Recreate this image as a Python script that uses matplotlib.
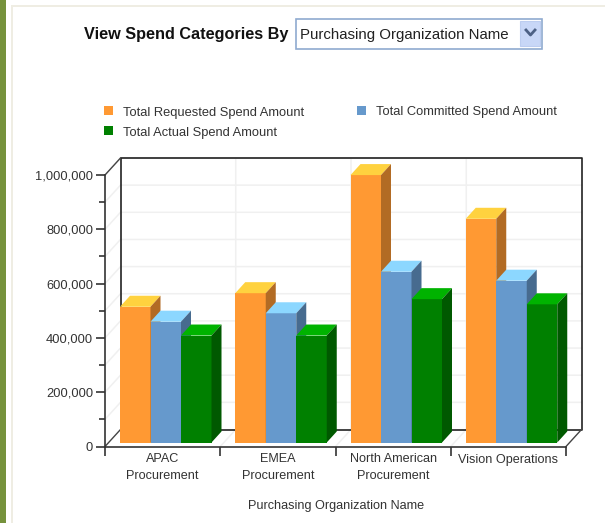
import matplotlib
matplotlib.use("Agg")
import matplotlib.pyplot as plt
from matplotlib.patches import Polygon, Rectangle
from matplotlib.ticker import FuncFormatter, MultipleLocator

plt.rcParams["font.family"] = ["Liberation Sans", "DejaVu Sans"]

W, H = 605, 523

categories = ["APAC\nProcurement", "EMEA\nProcurement", "North American\nProcurement", "Vision Operations"]
series_names = ["Total Requested Spend Amount", "Total Committed Spend Amount", "Total Actual Spend Amount"]
requested = [500000, 550000, 985000, 824000]
committed = [445000, 476000, 629000, 596000]
actual = [394000, 394000, 528000, 509000]

# front, top, side
ORANGE = ("#FF9933", "#FFD23F", "#B26B24")
BLUE = ("#6699CC", "#8CD7FF", "#476B8F")
GREEN = ("#008000", "#00B300", "#005900")

fig = plt.figure(figsize=(W / 100, H / 100), dpi=100, facecolor="white")

# 页面背景 (像素坐标)
bg = fig.add_axes([0, 0, 1, 1])
bg.set_xlim(0, W)
bg.set_ylim(H, 0)
bg.axis("off")
bg.add_patch(Rectangle((0, 0), 6, H, color="#76923C", lw=0))
bg.add_patch(Rectangle((11, 5), 2, H, color="#EFEDE3", lw=0))
bg.add_patch(Rectangle((11, 5), W, 2, color="#EFEDE3", lw=0))

# 下拉框
bg.text(288, 34.5, "View Spend Categories By", fontsize=11.7, fontweight="bold",
        ha="right", va="center", color="#111111")
bg.add_patch(Rectangle((296, 18.5), 246, 30, fc="white", ec="#8FAAD0", lw=1.2))
bg.add_patch(Rectangle((520, 20.5), 20, 25.5, fc="#C8D7F7", ec="#BCCDF0", lw=0.8))
bg.plot([526, 530.5, 535], [30, 35, 30], color="#4D6185", lw=2)
bg.text(300.5, 35, "Purchasing Organization Name", fontsize=10.85, ha="left", va="center", color="#222222")

# 图例
for (x, y), name, col in zip([(104, 106), (357, 105.5), (104, 126)], series_names, [ORANGE, BLUE, GREEN]):
    bg.add_patch(Rectangle((x, y), 9, 9, color=col[0], lw=0))
    bg.text(x + 19, y + 7, name, fontsize=9.25, ha="left", va="center", color="#333333")

# 主坐标轴
left, right, bottom, top = 105, 566, 446.5, 175
ax = fig.add_axes([left / W, 1 - bottom / H, (right - left) / W, (bottom - top) / H])
ax.patch.set_alpha(0)
ax.set_xlim(0, len(categories))
ax.set_ylim(0, 1000000)
ppx = len(categories) / (right - left)
ppy = 1000000 / (bottom - top)
wall_dx, wall_dy = 15.5 * ppx, 17 * ppy

# 后墙, 侧墙和地面的网格
for v in range(0, 1000001, 100000):
    if v > 0:
        ax.plot([0, wall_dx, len(categories) + wall_dx], [v, v + wall_dy, v + wall_dy],
                color="#F0F0F0", lw=1.1, clip_on=False, zorder=1)
for i in range(1, len(categories)):
    ax.plot([i, i + wall_dx, i + wall_dx], [0, wall_dy, 1000000 + wall_dy],
            color="#F0F0F0", lw=1.1, clip_on=False, zorder=1)

n = len(categories)
ax.plot([wall_dx, wall_dx, n + wall_dx, n + wall_dx, wall_dx],
        [wall_dy, 1000000 + wall_dy, 1000000 + wall_dy, wall_dy, wall_dy],
        color="#222222", lw=1.2, clip_on=False, zorder=2)
ax.plot([0, wall_dx], [1000000, 1000000 + wall_dy], color="#444444", lw=1, clip_on=False, zorder=2)
ax.plot([0, wall_dx], [0, wall_dy], color="#444444", lw=1, clip_on=False, zorder=2)
ax.plot([n, n + wall_dx], [0, wall_dy], color="#444444", lw=1, clip_on=False, zorder=2)

# 三维柱子
bar_w = 30.5 * ppx
base = 4 * ppy
dx, dy = 10 * ppx, 11 * ppy
start = 15 * ppx
for s, (vals, col) in enumerate(zip([requested, committed, actual], [ORANGE, BLUE, GREEN])):
    xs = [i + start + s * bar_w for i in range(n)]
    ax.bar(xs, vals, width=bar_w, bottom=base, align="edge", color=col[0], lw=0, zorder=5 + s)
    for x, v in zip(xs, vals):
        t = v + base
        ax.add_patch(Polygon([(x, t), (x + dx, t + dy), (x + bar_w + dx, t + dy), (x + bar_w, t)],
                             fc=col[1], lw=0, zorder=5 + s, clip_on=False))
        ax.add_patch(Polygon([(x + bar_w, base), (x + bar_w + dx, base + dy),
                              (x + bar_w + dx, t + dy), (x + bar_w, t)],
                             fc=col[2], lw=0, zorder=5 + s, clip_on=False))

# 坐标轴样式
for side in ("top", "right"):
    ax.spines[side].set_visible(False)
for side in ("left", "bottom"):
    ax.spines[side].set_color("#333333")
    ax.spines[side].set_linewidth(1.2)
    ax.spines[side].set_zorder(20)
ax.yaxis.set_major_locator(MultipleLocator(200000))
ax.yaxis.set_minor_locator(MultipleLocator(100000))
ax.yaxis.set_major_formatter(FuncFormatter(lambda v, _: f"{int(v):,}"))
ax.tick_params(axis="y", which="major", length=6.5, width=1.2, color="#333333",
               labelsize=9.3, labelcolor="#333333", pad=2)
ax.tick_params(axis="y", which="minor", length=4, width=1.2, color="#333333")
ax.set_xticks(range(n + 1))
ax.set_xticklabels([])
ax.tick_params(axis="x", which="major", length=6.5, width=1.2, color="#333333")
for i, c in enumerate(categories):
    ax.text(i + 0.5, -1000000 * 7 / 271.5, c, ha="center", va="top", fontsize=9.1,
            color="#333333", linespacing=1.45)
bg.text(336, 506, "Purchasing Organization Name", fontsize=9.1, ha="center", va="center", color="#333333")

fig.savefig("out.png", dpi=100)
